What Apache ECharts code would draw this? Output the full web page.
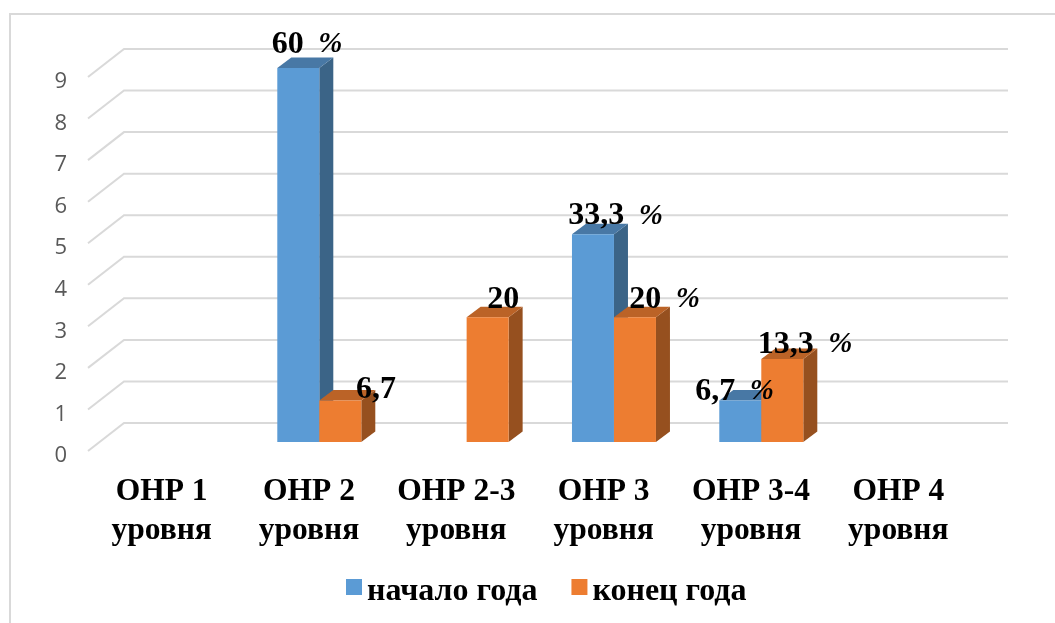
<!DOCTYPE html>
<html><head><meta charset="utf-8">
<style>html,body{margin:0;padding:0;background:#fff}#c{width:1055px;height:623px}</style>
<script src="https://cdn.jsdelivr.net/npm/echarts@6/dist/echarts.min.js"></script>
</head><body><div id="c"></div>
<script>
const categories = ['ОНР 1\nуровня','ОНР 2\nуровня','ОНР 2-3\nуровня','ОНР 3\nуровня','ОНР 3-4\nуровня','ОНР 4\nуровня'];
const startValues = [0, 9, 0, 5, 1, 0];
const endValues = [0, 1, 3, 3, 2, 0];
const startLabels = ['', '60 %', '', '33,3 %', '6,7 %', ''];
const endLabels = ['', '6,7', '20', '20 %', '13,3 %', ''];
const yTicks = [0,1,2,3,4,5,6,7,8,9];

const W = 42, DX = 14, DY = 10.5, FX = 10.3, FY = 9, WALLX = 36, WALLY = 28;
const startLabelShift = {1:[8.7,-23], 3:[22.7,-18], 4:[-5.8,-8.5]};
const endLabelShift = {1:[35.7,-11], 2:[15.7,-18], 3:[29.7,-18], 4:[22.7,-14]};

function bar(api, colors, dir) {
  const i = api.value(0), v = api.value(1);
  if (!v) return null;
  const c = api.coord([i, v]), b = api.coord([i, 0]);
  const x0 = c[0] + FX + (dir < 0 ? -W : 0), x1 = x0 + W, yt = c[1] - FY, yb = b[1] - FY;
  return {type:'group', children:[
    {type:'polygon', shape:{points:[[x1,yt],[x1+DX,yt-DY],[x1+DX,yb-DY],[x1,yb]]}, style:{fill:colors[2]}},
    {type:'polygon', shape:{points:[[x0,yt],[x0+DX,yt-DY],[x1+DX,yt-DY],[x1,yt]]}, style:{fill:colors[1]}},
    {type:'rect', shape:{x:x0,y:yt,width:W,height:yb-yt}, style:{fill:colors[0]}}
  ]};
}
function labelItem(api, texts, shifts, dir) {
  const i = api.value(0), v = api.value(1);
  if (!texts[i]) return null;
  const c = api.coord([i, v]);
  const s = shifts[i];
  const parts = texts[i].split(' ');
  return {type:'text', x: c[0] + FX + dir*W/2 + s[0], y: c[1] - FY + s[1],
    style:{text: parts[1] ? '{n|'+parts[0]+'}{p|  '+parts[1]+'}' : '{n|'+parts[0]+'}',
      align:'center', verticalAlign:'middle',
      rich:{n:{font:'bold 32px "Liberation Serif"',fill:'#000'},p:{font:'italic bold 29px "Liberation Serif"',fill:'#000'}}}};
}
const chart = echarts.init(document.getElementById('c'), null, {renderer:'canvas'});
chart.setOption({
  animation:false,
  backgroundColor:'#fff',
  graphic:[
    {type:'polyline', shape:{points:[[10,623],[10,14],[1055,14]]}, style:{stroke:'#d9d9d9',lineWidth:2,fill:null}, silent:true}
  ],
  grid:{left:88,top:77,width:884,height:374},
  xAxis:{type:'category',data:categories,axisLine:{show:false},axisTick:{show:false},
    axisLabel:{margin:21,color:'#000',fontFamily:'Liberation Serif',fontWeight:'bold',fontSize:31.5,lineHeight:39,interval:0}},
  yAxis:{type:'value',min:0,max:9,interval:1,splitLine:{show:false},axisLine:{show:false},axisTick:{show:false},
    axisLabel:{margin:21,formatter:'{a|{value}}',
      rich:{a:{color:'#595959',fontFamily:'Open Sans',fontSize:22,padding:[10,0,0,0]}}}},
  legend:{data:['начало года','конец года'],top:571,left:341,itemWidth:16,itemHeight:16,itemGap:34,itemStyle:{borderWidth:0},icon:'rect',
    formatter:'{a|{name}}',
    textStyle:{rich:{a:{color:'#000',fontFamily:'Liberation Serif',fontWeight:'bold',fontSize:32,padding:[10,0,0,0]}}}},
  series:[
    {type:'custom',name:'wall',silent:true,z:1,data:yTicks.map(t=>[0,t]),encode:{x:0,y:1},
      renderItem(params,api){
        const y = api.coord([0,api.value(1)])[1], cs = params.coordSys;
        return {type:'polyline',shape:{points:[[cs.x,y],[cs.x+WALLX,y-WALLY],[cs.x+cs.width+WALLX,y-WALLY]]},
          style:{stroke:'#d9d9d9',lineWidth:2,fill:null}};
      }},
    {type:'custom',name:'начало года',z:2,itemStyle:{color:'#5B9BD5'},data:startValues.map((v,i)=>[i,v]),encode:{x:0,y:1},
      renderItem(p,api){return bar(api,['#5B9BD5','#4878A5','#3B6487'],-1);}},
    {type:'custom',name:'конец года',z:3,itemStyle:{color:'#ED7D31'},data:endValues.map((v,i)=>[i,v]),encode:{x:0,y:1},
      renderItem(p,api){return bar(api,['#ED7D31','#BB6327','#96501F'],1);}},
    {type:'custom',name:'startLabels',z:5,silent:true,data:startValues.map((v,i)=>[i,v]),encode:{x:0,y:1},
      renderItem(p,api){return labelItem(api,startLabels,startLabelShift,-1);}},
    {type:'custom',name:'endLabels',z:5,silent:true,data:endValues.map((v,i)=>[i,v]),encode:{x:0,y:1},
      renderItem(p,api){return labelItem(api,endLabels,endLabelShift,1);}}
  ]
});
</script></body></html>
